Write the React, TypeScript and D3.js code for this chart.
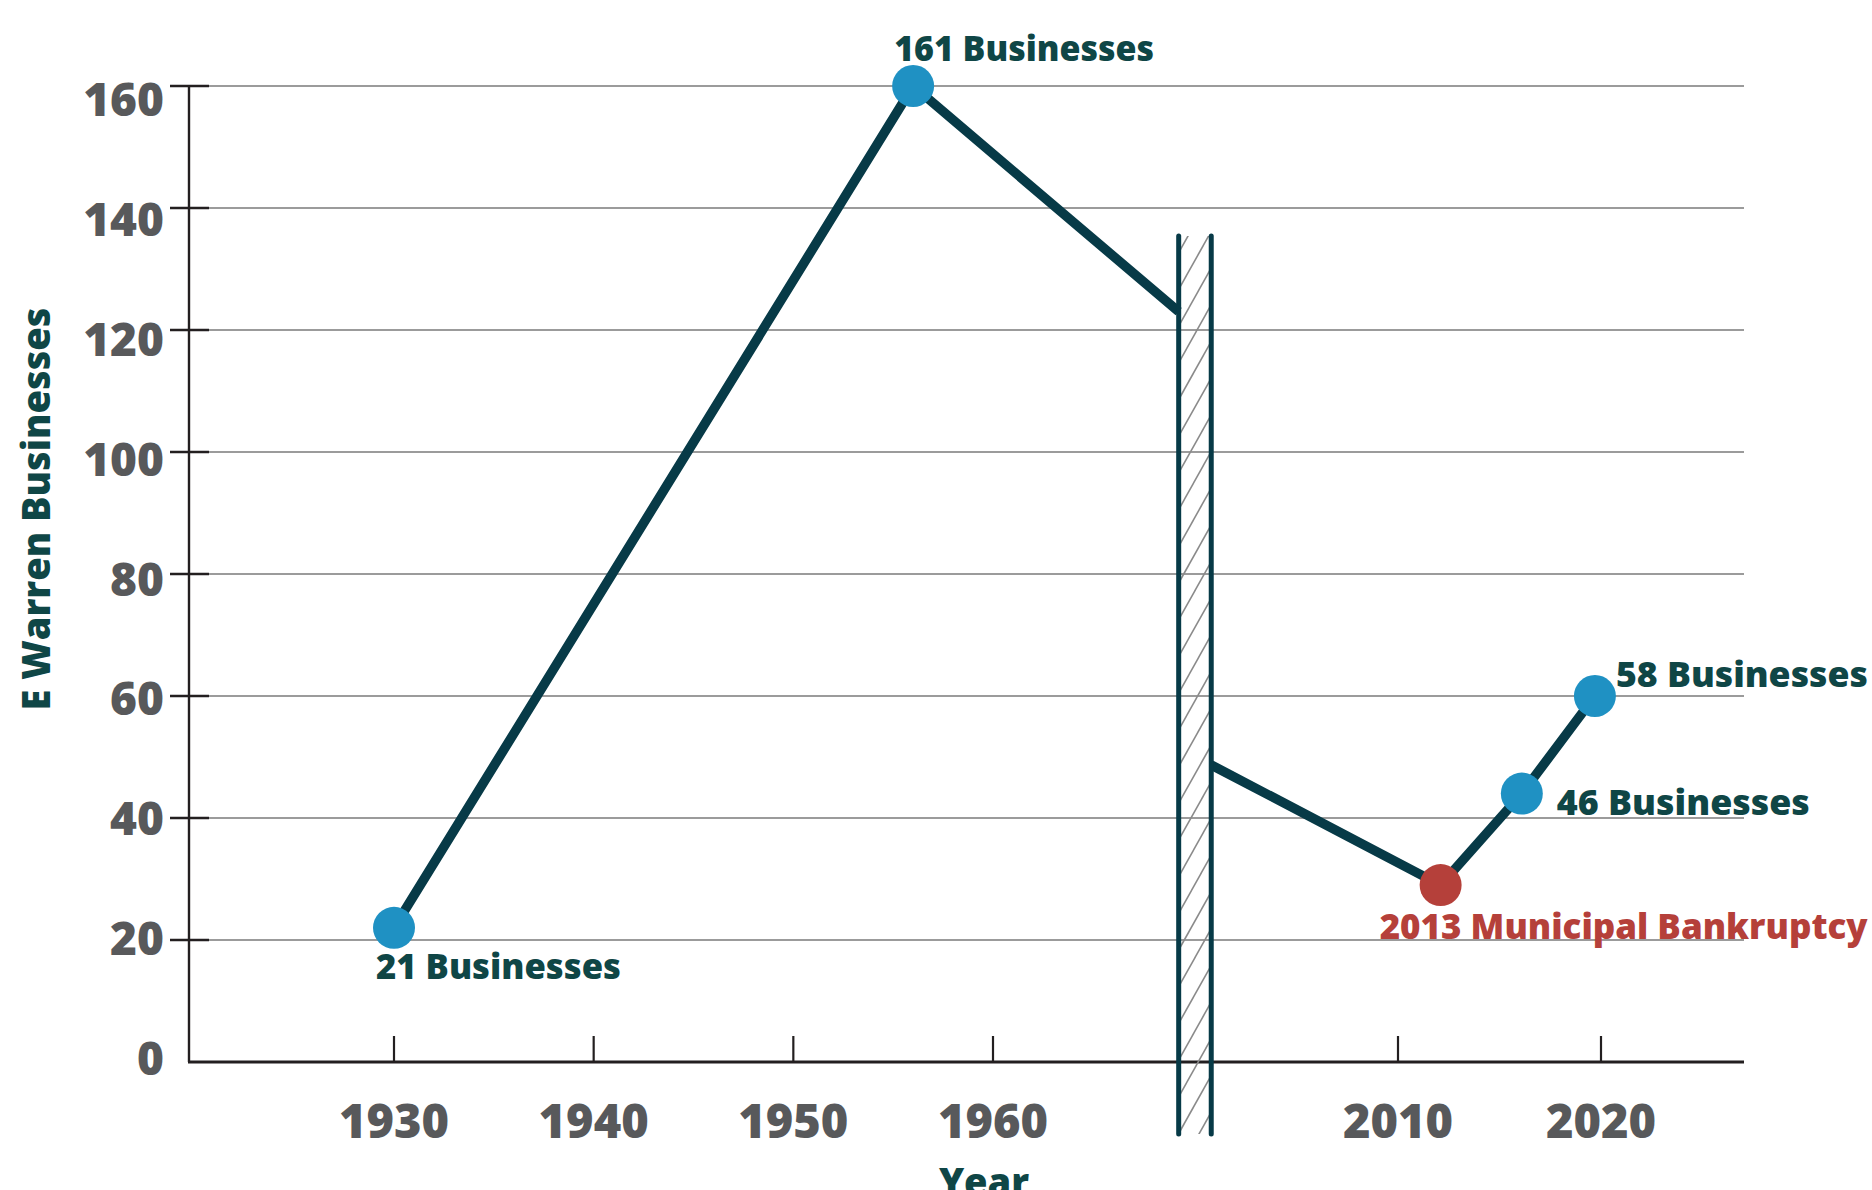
import React from "react";
import * as d3 from "d3";

// ---- data ----
const yTickValues = [0, 20, 40, 60, 80, 100, 120, 140, 160];
const leftTickYears = [1930, 1940, 1950, 1960];
const rightTickYears = [2010, 2020];
// axis break (years where each half is cut)
const breakYears = [1969.3, 2000.8];
// plotted series, split by the axis break
const leftSeries = [
  { year: 1930, value: 22 },
  { year: 1956, value: 160 },
  { year: 1969.3, value: 123 },
];
const rightSeries = [
  { year: 2000.8, value: 48.7 },
  { year: 2012.1, value: 29 },
  { year: 2016.1, value: 44 },
  { year: 2019.7, value: 60 },
];
// highlighted points and their labels
const markerSides = ["left", "left", "right", "right", "right"];
const markerYears = [1930, 1956, 2012.1, 2016.1, 2019.7];
const markerValues = [22, 160, 29, 44, 60];
const markerLabels = [
  "21 Businesses",
  "161 Businesses",
  "2013 Municipal Bankruptcy",
  "46 Businesses",
  "58 Businesses",
];
const markerKinds = ["normal", "normal", "event", "normal", "normal"];

const W = 1872;
const H = 1190;
const FONT = "'Open Sans', 'DejaVu Sans', sans-serif";

export default function App() {
  const y = d3.scaleLinear().domain([0, 160]).range([1062, 86]);
  const yLabel = d3.scaleLinear().domain([0, 160]).range([1057, 98]);
  const xL = d3.scaleLinear().domain([1930, 1960]).range([394, 993]);
  const xR = d3.scaleLinear().domain([2010, 2020]).range([1398, 1601]);
  const xAxisLeft = 189;
  const xAxisRight = 1744;

  const lineL = d3
    .line<{ year: number; value: number }>()
    .x((d) => xL(d.year))
    .y((d) => y(d.value));
  const lineR = d3
    .line<{ year: number; value: number }>()
    .x((d) => xR(d.year))
    .y((d) => y(d.value));

  const bx0 = xL(breakYears[0]);
  const bx1 = xR(breakYears[1]);
  const bandTop = 236;
  const bandBottom = 1134;
  const hatchPeriod = 36.7;
  const hatchRise = ((bx1 - bx0) * 50) / 28;
  const hatchStarts = d3.range(bandTop - 20, bandBottom + hatchRise + 40, hatchPeriod);

  const TEAL = "#073a47";
  const BLUE = "#1f91c3";
  const RED = "#b5403a";
  const TXT = "#0f4646";
  const GRAY = "#58595b";
  const AX = "#231f20";

  // label layout per marker index: offsets and rendered widths
  const labelDx = [-18, -19, -61, 35, 21];
  const labelDy = [51, -25, 54, 21, -9];
  const labelW = [245, 260, 488, 253, 252];

  return (
    <svg
      width={W}
      height={H}
      style={{ position: "absolute", left: 0, top: 0, background: "#fff" }}
      fontFamily={FONT}
    >
      <defs>
        <clipPath id="bandClip">
          <rect x={bx0} y={bandTop} width={bx1 - bx0} height={bandBottom - bandTop} />
        </clipPath>
      </defs>

      {/* gridlines */}
      {yTickValues
        .filter((v) => v > 0)
        .map((v) => (
          <line
            key={"g" + v}
            x1={209}
            x2={xAxisRight}
            y1={y(v)}
            y2={y(v)}
            stroke="#7a7a7a"
            strokeWidth={1.3}
          />
        ))}
      {/* y tick marks */}
      {yTickValues
        .filter((v) => v > 0)
        .map((v) => (
          <line
            key={"t" + v}
            x1={170}
            x2={209}
            y1={y(v)}
            y2={y(v)}
            stroke={AX}
            strokeWidth={2.6}
          />
        ))}
      {/* y axis */}
      <line x1={xAxisLeft} x2={xAxisLeft} y1={y(160)} y2={y(0)} stroke={AX} strokeWidth={2.4} />
      {/* x axis */}
      <line x1={xAxisLeft - 1} x2={xAxisRight} y1={y(0)} y2={y(0)} stroke={AX} strokeWidth={3} />

      {/* x ticks */}
      {leftTickYears.map((t) => (
        <line key={"xl" + t} x1={xL(t)} x2={xL(t)} y1={y(0)} y2={y(0) - 26} stroke={AX} strokeWidth={2.2} />
      ))}
      {rightTickYears.map((t) => (
        <line key={"xr" + t} x1={xR(t)} x2={xR(t)} y1={y(0)} y2={y(0) - 26} stroke={AX} strokeWidth={2.2} />
      ))}

      {/* y tick labels */}
      {yTickValues.map((v) => (
        <text
          key={"yl" + v}
          x={164}
          y={yLabel(v)}
          textAnchor="end"
          dominantBaseline="central"
          fontSize={46}
          fontWeight={800}
          fill={GRAY}
        >
          {v}
        </text>
      ))}
      {/* x tick labels */}
      {leftTickYears.map((t) => (
        <text key={"xtl" + t} x={xL(t)} y={1138} textAnchor="middle" fontSize={47} fontWeight={800} fill={GRAY}>
          {t}
        </text>
      ))}
      {rightTickYears.map((t) => (
        <text key={"xtr" + t} x={xR(t)} y={1138} textAnchor="middle" fontSize={47} fontWeight={800} fill={GRAY}>
          {t}
        </text>
      ))}

      {/* axis titles */}
      <text
        transform={`translate(50,509) rotate(-90)`}
        textAnchor="middle"
        fontSize={38}
        fontWeight={800}
        fill={TXT}
      >
        E Warren Businesses
      </text>
      <text x={984} y={1196} textAnchor="middle" fontSize={38} fontWeight={800} fill={TXT}>
        Year
      </text>

      {/* axis break band */}
      <g clipPath="url(#bandClip)">
        {hatchStarts.map((s, i) => (
          <line
            key={"h" + i}
            x1={bx0}
            y1={s}
            x2={bx1}
            y2={s - hatchRise}
            stroke="#8a8a8a"
            strokeWidth={1.6}
          />
        ))}
      </g>

      {/* series */}
      <path d={lineL(leftSeries) || ""} fill="none" stroke={TEAL} strokeWidth={9.5} strokeLinejoin="miter" />
      <path d={lineR(rightSeries) || ""} fill="none" stroke={TEAL} strokeWidth={9.5} strokeLinejoin="miter" />

      <line x1={bx0} x2={bx0} y1={bandTop} y2={bandBottom} stroke={TEAL} strokeWidth={5} strokeLinecap="round" />
      <line x1={bx1} x2={bx1} y1={bandTop} y2={bandBottom} stroke={TEAL} strokeWidth={5} strokeLinecap="round" />

      {/* markers */}
      {markerYears.map((yr, i) => {
        const cx = markerSides[i] === "left" ? xL(yr) : xR(yr);
        const cy = y(markerValues[i]);
        return (
          <circle key={"m" + i} cx={cx} cy={cy} r={21} fill={markerKinds[i] === "event" ? RED : BLUE} />
        );
      })}
      {markerYears.map((yr, i) => {
        const cx = markerSides[i] === "left" ? xL(yr) : xR(yr);
        const cy = y(markerValues[i]);
        return (
          <text
            key={"ml" + i}
            x={cx + labelDx[i]}
            y={cy + labelDy[i]}
            fontSize={35}
            fontWeight={800}
            textLength={labelW[i]}
            lengthAdjust="spacingAndGlyphs"
            fill={markerKinds[i] === "event" ? RED : TXT}
          >
            {markerLabels[i]}
          </text>
        );
      })}
    </svg>
  );
}
